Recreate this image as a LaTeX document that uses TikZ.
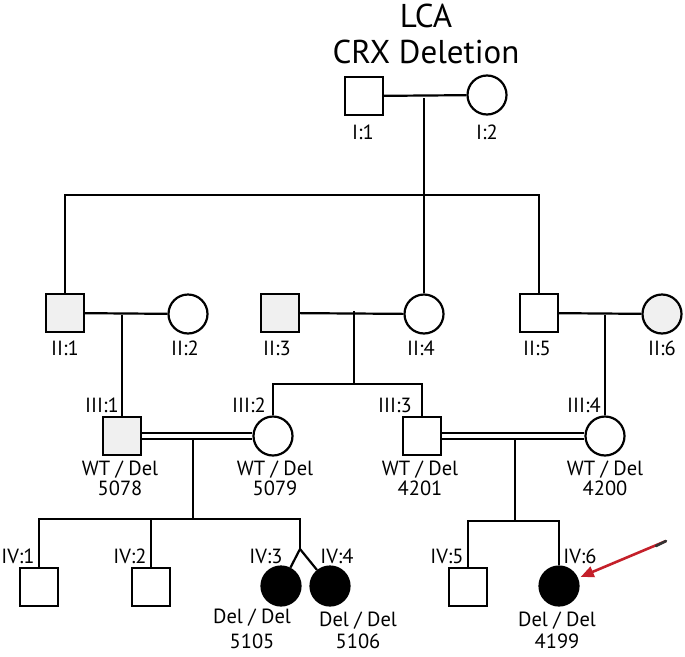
\documentclass[tikz,border=0pt]{standalone}
\usepackage{fontspec}
\setmainfont{PT Sans}
\usetikzlibrary{arrows.meta}

\begin{document}
\begin{tikzpicture}[
        x=1pt, y=-1pt,
        male/.style={draw, rectangle, minimum width=38pt, minimum height=38pt, inner sep=0pt},
        female/.style={draw, circle, minimum size=39pt, inner sep=0pt},
        carrier/.style={fill=gray!12},
        affected/.style={fill=black},
        tag/.style={font=\fontsize{20.5}{22}\selectfont, inner sep=0pt, anchor=base},
        geno/.style={font=\fontsize{20.5}{20}\selectfont, inner sep=0pt, align=center, anchor=base, text depth=0pt},
        mate/.style={double, double distance=4pt},
        pointer/.style={-{Triangle[length=13pt, width=11pt]}, line width=2.6pt, draw={rgb,255:red,196;green,32;blue,42}}
    ]
        \useasboundingbox (0,0) rectangle (685,656);
        \tikzset{every path/.style={line width=2.2pt}}

        % Title
        \node[font=\fontsize{33}{36}\selectfont, align=center, inner sep=0pt, anchor=base] (title) at (426,63) {LCA\\CRX Deletion};

        % Generation I
        \node[male] (i1) at (364,96) {};
        \node[female] (i2) at (487,95) {};
        \node[tag] (t-i1) at (363,139) {I:1};
        \node[tag] (t-i2) at (487,139) {I:2};

        % Generation II
        \node[male, carrier] (ii1) at (65,313) {};
        \node[female] (ii2) at (188,314) {};
        \node[male, carrier] (ii3) at (280,313) {};
        \node[female] (ii4) at (424,314) {};
        \node[male] (ii5) at (539,313) {};
        \node[female, carrier] (ii6) at (662,314) {};
        \node[tag] (t-ii1) at (65,355) {II:1};
        \node[tag] (t-ii2) at (185,355) {II:2};
        \node[tag] (t-ii3) at (277,355) {II:3};
        \node[tag] (t-ii4) at (421,355) {II:4};
        \node[tag] (t-ii5) at (537,355) {II:5};
        \node[tag] (t-ii6) at (662,355) {II:6};

        % Generation III
        \node[male, carrier] (iii1) at (122,436) {};
        \node[female] (iii2) at (273,436) {};
        \node[male] (iii3) at (422,436) {};
        \node[female] (iii4) at (605,436) {};
        \node[tag] (t-iii1) at (102,412) {III:1};
        \node[tag] (t-iii2) at (249,412) {III:2};
        \node[tag] (t-iii3) at (395,412) {III:3};
        \node[tag] (t-iii4) at (584,412) {III:4};
        \node[geno] (g-iii1) at (120,495) {WT / Del\\5078};
        \node[geno] (g-iii2) at (275,495) {WT / Del\\5079};
        \node[geno] (g-iii3) at (420,495) {WT / Del\\4201};
        \node[geno] (g-iii4) at (605,495) {WT / Del\\4200};

        % Generation IV
        \node[male] (iv1) at (39,587) {};
        \node[male] (iv2) at (151,587) {};
        \node[female, affected] (iv3) at (281,586) {};
        \node[female, affected] (iv4) at (330,586) {};
        \node[male] (iv5) at (468,587) {};
        \node[female, affected] (iv6) at (559,586) {};
        \node[tag] (t-iv1) at (18,563) {IV:1};
        \node[tag] (t-iv2) at (130,563) {IV:2};
        \node[tag] (t-iv3) at (266,563) {IV:3};
        \node[tag] (t-iv4) at (337,563) {IV:4};
        \node[tag] (t-iv5) at (447,563) {IV:5};
        \node[tag] (t-iv6) at (580,563) {IV:6};
        \node[geno] (g-iv3) at (252,648) {Del / Del\\[5pt]5105};
        \node[geno] (g-iv4) at (358,648) {Del / Del\\[2pt]5106};
        \node[geno] (g-iv6) at (557,648) {Del / Del\\[2pt]4199};

        % Junction points on the lines
        \coordinate (m1) at (424,98);
        \coordinate (s1) at (424,195);
        \coordinate (m2) at (122,315);
        \coordinate (m3) at (354,311);
        \coordinate (s3) at (354,384);
        \coordinate (m4) at (605,315);
        \coordinate (m5) at (193,438);
        \coordinate (s5) at (193,519);
        \coordinate (tw) at (300,549);
        \coordinate (m6) at (515,438);
        \coordinate (s6) at (515,521);
        \coordinate (tail) at (666,541);
        \coordinate (tailend) at (656,546);

        % Matings and lines of descent
        \draw (i1) -- (i2);
        \draw (m1) -- (s1);
        \draw (ii1) |- (s1) -| (ii5);
        \draw (s1) -- (ii4);

        \draw (ii1) -- (ii2);
        \draw (m2) -- (iii1);
        \draw (ii3) -- (ii4);
        \draw (m3) -- (s3);
        \draw (iii2) |- (s3) -| (iii3);
        \draw (ii5) -- (ii6);
        \draw (m4) -- (iii4);

        \draw[mate] (iii1) -- (iii2);
        \draw (m5) -- (s5);
        \draw (iv1) |- (s5) -| (tw);
        \draw (iv2) -- (iv2 |- s5);
        \draw (tw) -- (iv3);
        \draw (tw) -- (iv4);

        \draw[mate] (iii3) -- (iii4);
        \draw (m6) -- (s6);
        \draw (iv5) |- (s6) -| (iv6);

        % Proband arrow
        \draw[pointer, shorten >=3pt] (tail) -- (iv6);
        \draw[line width=2.6pt, line cap=round, black!80] (tail) -- (tailend);
\end{tikzpicture}
\end{document}
